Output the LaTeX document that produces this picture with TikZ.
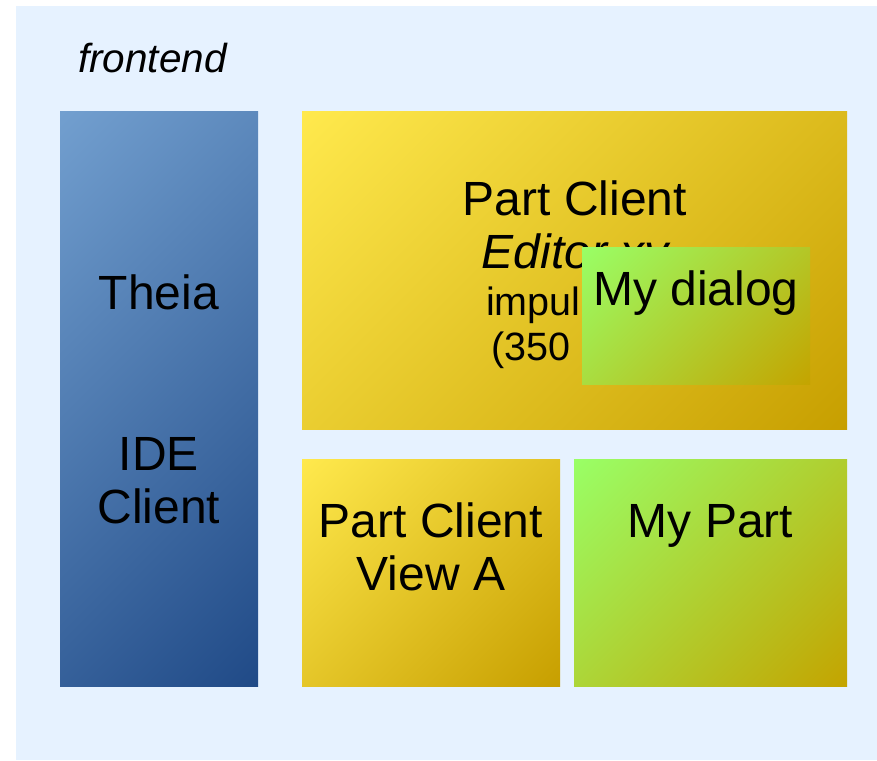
\documentclass[tikz,border=0pt]{standalone}
\usepackage{fontspec}
\setmainfont{Liberation Sans}
\definecolor{bgblue}{RGB}{230,242,255}
\definecolor{blueTL}{RGB}{114,159,207}
\definecolor{blueBR}{RGB}{32,74,135}
\definecolor{yelTL}{RGB}{255,233,77}
\definecolor{yelBR}{RGB}{199,159,0}
\definecolor{grnTL}{RGB}{153,255,102}
\definecolor{grnBR}{RGB}{196,164,0}
\pgfdeclareverticalshading{blueshade}{100bp}{color(0bp)=(blueBR); color(14.6bp)=(blueBR); color(85.4bp)=(blueTL); color(100bp)=(blueTL)}
\pgfdeclareverticalshading{yelshade}{100bp}{color(0bp)=(yelBR); color(14.6bp)=(yelBR); color(85.4bp)=(yelTL); color(100bp)=(yelTL)}
\pgfdeclareverticalshading{grnshade}{100bp}{color(0bp)=(grnBR); color(14.6bp)=(grnBR); color(85.4bp)=(grnTL); color(100bp)=(grnTL)}
\tikzset{
  bluebox/.style={shading=blueshade, shading angle=45},
  yelbox/.style={shading=yelshade, shading angle=45},
  grnbox/.style={shading=grnshade, shading angle=45},
  big/.style={font=\fontsize{48}{55}\selectfont, inner sep=0pt, anchor=base},
  small/.style={font=\fontsize{39.5}{45}\selectfont, inner sep=0pt, anchor=base west},
}
\begin{document}
\begin{tikzpicture}[x=1pt,y=-1pt]
\useasboundingbox (0,0) rectangle (877,760);
\fill[bgblue] (16,6) rectangle (877,760);
\node[font=\fontsize{40.5}{46}\selectfont\itshape, inner sep=0pt, anchor=base west] (frontend) at (78,72) {frontend};
% Theia
\shade[bluebox] (60,111) rectangle (258,686);
\node[big] (theiaT) at (159,309) {Theia};
\node[big] (ide) at (159,470) {IDE};
\node[big] (idec) at (159,523) {Client};
% Editor
\shade[yelbox] (302,111) rectangle (847,429);
\node[big] (pce) at (575,215) {Part Client};
\node[big, font=\fontsize{48}{55}\selectfont\itshape] (edxy) at (575,268) {Editor xy};
\node[small] (impul) at (486,315) {impul};
\node[small] (ms) at (491,360) {(350};
% My dialog
\shade[grnbox] (582,247) rectangle (810,384);
\node[big] (dlg) at (696,305) {My dialog};
% View A
\shade[yelbox] (302,459) rectangle (560,686);
\node[big] (pcv) at (431,537) {Part Client};
\node[big] (va) at (431,590) {View A};
% My Part
\shade[grnbox] (574,459) rectangle (847,686);
\node[big] (mp) at (710.5,537) {My Part};
\end{tikzpicture}
\end{document}
